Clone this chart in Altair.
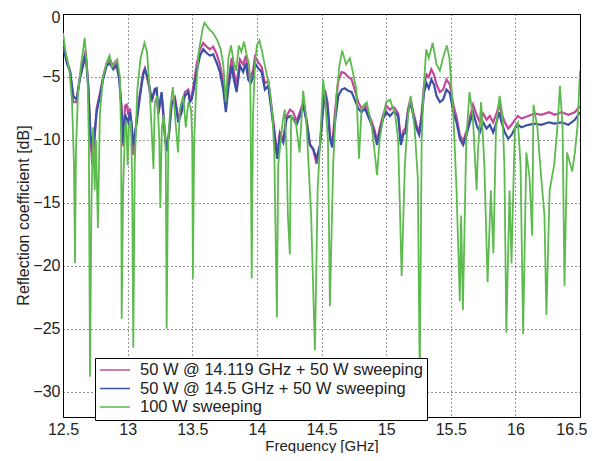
import altair as alt
import pandas as pd

# ---- data ----
series_names = [
    "50 W @ 14.119 GHz + 50 W sweeping",
    "50 W @ 14.5 GHz + 50 W sweeping",
    "100 W sweeping",
]
series_colors = ["#c4489c", "#3a4fa6", "#5dba4e"]

x_ticks = [12.5, 13, 13.5, 14, 14.5, 15, 15.5, 16, 16.5]
y_ticks = [0, -5, -10, -15, -20, -25, -30]

blue_freq = [
    12.50, 12.53, 12.555, 12.58, 12.605, 12.63, 12.655, 12.675, 12.695, 12.713,
    12.727, 12.742, 12.76, 12.786, 12.81, 12.838, 12.863, 12.889, 12.915, 12.935,
    12.954, 12.966, 12.98, 12.993, 13.005, 13.018, 13.03, 13.044, 13.07, 13.096,
    13.121, 13.134, 13.16, 13.186, 13.21, 13.225, 13.237, 13.263, 13.276, 13.289,
    13.302, 13.322, 13.34, 13.366, 13.392, 13.418, 13.443, 13.469, 13.482, 13.495,
    13.508, 13.534, 13.56, 13.585, 13.611, 13.637, 13.662, 13.69, 13.714, 13.74,
    13.76, 13.778, 13.805, 13.822, 13.843, 13.869, 13.894, 13.915, 13.933, 13.952,
    13.972, 13.985, 14.01, 14.037, 14.062, 14.088, 14.114, 14.14, 14.157, 14.178,
    14.204, 14.23, 14.256, 14.281, 14.307, 14.333, 14.358, 14.385, 14.41, 14.436,
    14.462, 14.488, 14.508, 14.526, 14.547, 14.565, 14.583, 14.604, 14.63, 14.656,
    14.68, 14.707, 14.733, 14.757, 14.784, 14.81, 14.836, 14.86, 14.887, 14.913,
    14.93, 14.95, 14.977, 15.003, 15.029, 15.055, 15.068, 15.093, 15.114, 15.132,
    15.15, 15.17, 15.19, 15.21, 15.235, 15.256, 15.274, 15.294, 15.313, 15.33,
    15.35, 15.37, 15.39, 15.416, 15.441, 15.467, 15.493, 15.52, 15.545, 15.57,
    15.596, 15.622, 15.648, 15.673, 15.70, 15.725, 15.75, 15.777, 15.802, 15.828,
    15.854, 15.874, 15.893, 15.918, 15.944, 15.97, 15.996, 16.02, 16.047, 16.10,
    16.15, 16.20, 16.26, 16.305, 16.357, 16.41, 16.46, 16.50,
]

blue_db = [
    -2.5, -3.9, -4.6, -6.5, -6.8, -5.2, -4.1, -3.2, -5.7, -9.6,
    -10.9, -9.8, -7.8, -6.5, -5.2, -4.1, -3.9, -4.4, -4.1, -5.2,
    -7.8, -10.2, -8.0, -8.3, -8.6, -7.8, -8.6, -10.4, -8.6, -6.5,
    -4.8, -4.4, -5.2, -6.8, -6.0, -5.9, -7.8, -6.2, -7.8, -9.6,
    -10.9, -9.4, -7.2, -6.8, -8.6, -7.8, -6.5, -6.2, -7.0, -6.8,
    -6.2, -4.6, -3.3, -2.8, -3.1, -3.3, -3.2, -3.9, -4.6, -6.0,
    -7.8, -6.0, -4.1, -5.2, -6.2, -4.1, -4.6, -3.9, -5.2, -5.5,
    -5.0, -3.9, -4.3, -4.6, -6.0, -5.7, -7.8, -9.9, -11.5, -9.6,
    -10.2, -8.3, -8.1, -8.3, -8.8, -8.1, -7.2, -8.6, -10.4, -10.7,
    -11.5, -10.4, -8.1, -6.2, -7.4, -9.9, -10.6, -8.6, -6.5, -6.0,
    -5.9, -6.1, -6.2, -6.8, -7.5, -7.8, -7.5, -8.1, -8.8, -9.6,
    -10.4, -9.4, -8.3, -7.8, -8.1, -7.8, -7.8, -8.1, -10.4, -9.6,
    -9.4, -7.8, -7.0, -8.1, -9.1, -9.6, -8.3, -6.2, -5.5, -5.9,
    -5.2, -5.6, -6.5, -7.0, -6.8, -6.0, -6.3, -7.8, -8.6, -9.9,
    -10.4, -9.6, -8.6, -7.8, -8.8, -9.4, -8.6, -9.1, -8.8, -9.4,
    -8.6, -7.8, -8.6, -9.4, -9.9, -9.6, -9.1, -8.8, -9.0, -8.8,
    -8.7, -8.8, -8.6, -8.7, -8.6, -8.8, -8.4, -7.8,
]

magenta_db = [
    -2.3, -3.7, -4.5, -7.0, -7.0, -5.0, -3.9, -2.9, -5.5, -10.0,
    -12.0, -10.3, -7.5, -6.3, -5.0, -3.9, -3.6, -4.2, -3.9, -5.0,
    -7.5, -10.5, -7.3, -7.2, -8.0, -7.5, -9.0, -11.2, -8.3, -6.2,
    -4.6, -4.3, -5.5, -7.0, -6.0, -6.2, -8.0, -6.4, -8.0, -9.8,
    -10.8, -9.2, -7.0, -6.6, -8.3, -7.5, -6.2, -6.0, -6.8, -6.5,
    -5.8, -4.0, -2.8, -2.3, -2.6, -2.8, -2.6, -3.2, -4.0, -5.4,
    -7.2, -5.4, -3.5, -4.6, -5.6, -3.6, -4.0, -3.3, -4.6, -5.0,
    -4.4, -3.4, -3.8, -4.2, -5.5, -5.3, -7.4, -9.6, -11.2, -9.4,
    -10.0, -8.1, -7.6, -7.8, -8.5, -7.8, -7.0, -8.4, -10.3, -10.8,
    -11.9, -10.5, -7.8, -6.0, -7.0, -9.5, -10.5, -7.8, -5.3, -4.6,
    -4.7, -5.0, -5.2, -6.0, -7.0, -7.5, -7.2, -7.8, -8.5, -9.3,
    -10.1, -9.1, -8.0, -7.3, -7.6, -7.4, -7.5, -7.9, -10.1, -9.3,
    -9.1, -7.5, -6.7, -7.8, -8.8, -9.4, -8.0, -5.6, -4.8, -5.0,
    -4.4, -4.8, -5.6, -6.2, -6.0, -5.2, -5.6, -7.2, -8.2, -9.6,
    -10.1, -9.3, -8.2, -7.2, -8.0, -8.6, -7.9, -8.4, -8.1, -8.6,
    -7.9, -7.2, -7.9, -8.6, -9.1, -8.8, -8.4, -8.1, -8.3, -8.1,
    -7.9, -8.0, -7.8, -8.0, -7.8, -8.0, -7.8, -7.3,
]

green_freq = [
    12.50, 12.52, 12.55, 12.57, 12.585, 12.593, 12.60, 12.615, 12.64, 12.668,
    12.69, 12.70, 12.709, 12.72, 12.733, 12.745, 12.755, 12.77, 12.785, 12.81,
    12.84, 12.86, 12.88, 12.90, 12.92, 12.94, 12.95, 12.954, 12.965, 12.98,
    12.99, 13.00, 13.01, 13.025, 13.035, 13.044, 13.055, 13.075, 13.10, 13.13,
    13.15, 13.17, 13.185, 13.20, 13.21, 13.23, 13.245, 13.253, 13.265, 13.28,
    13.295, 13.302, 13.315, 13.33, 13.35, 13.37, 13.39, 13.405, 13.43, 13.45,
    13.47, 13.49, 13.50, 13.505, 13.515, 13.53, 13.55, 13.58, 13.595, 13.63,
    13.66, 13.69, 13.72, 13.74, 13.76, 13.78, 13.80, 13.82, 13.84, 13.86,
    13.88, 13.90, 13.92, 13.94, 13.95, 13.96, 13.97, 13.985, 14.00, 14.02,
    14.04, 14.06, 14.08, 14.10, 14.12, 14.135, 14.155, 14.165, 14.18, 14.20,
    14.216, 14.23, 14.24, 14.255, 14.265, 14.285, 14.30, 14.33, 14.358, 14.38,
    14.40, 14.42, 14.449, 14.47, 14.49, 14.513, 14.53, 14.55, 14.565, 14.59,
    14.615, 14.64, 14.66, 14.69, 14.72, 14.74, 14.77, 14.79, 14.81, 14.85,
    14.89, 14.93, 14.95, 14.98, 15.00, 15.03, 15.07, 15.093, 15.12, 15.145,
    15.17, 15.19, 15.22, 15.245, 15.26, 15.275, 15.29, 15.31, 15.33, 15.36,
    15.39, 15.416, 15.44, 15.47, 15.49, 15.52, 15.545, 15.57, 15.58, 15.594,
    15.62, 15.645, 15.67, 15.70, 15.71, 15.735, 15.76, 15.785, 15.81, 15.83,
    15.85, 15.878, 15.90, 15.915, 15.93, 15.955, 15.97, 15.996, 16.02, 16.04,
    16.06, 16.085, 16.11, 16.13, 16.14, 16.17, 16.20, 16.225, 16.24, 16.265,
    16.30, 16.325, 16.345, 16.365, 16.38, 16.40, 16.44, 16.46, 16.48, 16.50,
]

green_db = [
    -1.5, -3.0, -4.5, -7.0, -12.0, -19.8, -11.0, -6.5, -4.0, -1.9,
    -5.0, -10.0, -28.8, -15.0, -9.0, -14.0, -10.0, -17.0, -8.0, -5.0,
    -3.8, -3.3, -4.2, -3.8, -3.6, -5.0, -10.0, -24.2, -14.0, -9.0,
    -8.5, -12.0, -9.0, -8.5, -13.0, -26.5, -12.0, -6.0, -3.5, -2.3,
    -3.0, -6.0, -9.0, -12.3, -7.0, -6.5, -10.0, -15.4, -9.0, -8.0,
    -11.0, -25.0, -10.0, -7.5, -5.8, -8.5, -11.0, -7.5, -6.5, -9.0,
    -7.0, -7.5, -10.0, -21.0, -10.0, -6.0, -3.0, -1.2, -0.7, -1.2,
    -1.5, -2.0, -2.8, -4.0, -7.0, -3.5, -2.5, -3.8, -4.5, -2.5,
    -3.0, -2.2, -3.2, -4.0, -6.0, -21.0, -8.0, -4.0, -2.5, -2.1,
    -3.0, -4.0, -5.0, -6.0, -8.0, -11.0, -24.1, -12.0, -10.5, -8.5,
    -7.6, -11.0, -16.0, -19.1, -8.0, -8.5, -8.5, -11.0, -6.1, -8.0,
    -12.0, -16.0, -26.7, -14.0, -10.0, -5.2, -7.0, -10.0, -23.2, -12.0,
    -6.5, -4.0, -2.9, -4.0, -3.5, -4.5, -6.0, -11.5, -7.5, -7.0,
    -9.0, -12.8, -10.0, -8.0, -7.0, -6.8, -8.0, -10.0, -20.8, -12.0,
    -8.0, -6.5, -9.0, -13.0, -29.0, -10.0, -6.0, -2.8, -3.5, -2.3,
    -4.0, -4.5, -3.5, -2.5, -3.5, -8.0, -14.0, -22.8, -16.0, -23.5,
    -10.0, -6.2, -8.0, -14.0, -11.0, -7.0, -12.0, -21.3, -14.0, -19.0,
    -9.0, -6.5, -8.0, -12.0, -25.3, -14.0, -19.8, -9.0, -8.6, -12.0,
    -25.4, -11.0, -13.0, -17.6, -7.2, -9.0, -13.0, -16.0, -23.9, -14.0,
    -12.0, -9.0, -5.7, -9.0, -21.6, -11.0, -12.5, -11.0, -9.0, -4.5,
]

# ---- tables ----
df_m = pd.DataFrame({"f": blue_freq, "db": magenta_db, "series": series_names[0]})
df_b = pd.DataFrame({"f": blue_freq, "db": blue_db, "series": series_names[1]})
df_g = pd.DataFrame({"f": green_freq, "db": green_db, "series": series_names[2]})

FONT = "Liberation Sans"

color = alt.Color(
    "series:N",
    scale=alt.Scale(domain=series_names, range=series_colors),
    legend=alt.Legend(
        title=None,
        orient="none",
        legendX=32,
        legendY=344,
        symbolType="stroke",
        symbolSize=900,
        symbolStrokeWidth=1.5,
        clipHeight=16,
        rowPadding=1.5,
        labelOffset=9,
        labelLimit=400,
        labelFontSize=16.5,
        labelFont=FONT,
        labelColor="#222",
        fillColor="white",
        strokeColor="black",
        padding=4,
    ),
)

x_enc = alt.X(
    "f:Q",
    scale=alt.Scale(domain=[12.5, 16.5], nice=False, zero=False),
    axis=alt.Axis(
        values=x_ticks,
        title="Frequency [GHz]",
        titleY=33,
        titleFontSize=15,
        titleBaseline="alphabetic",
        labelPadding=4,
        labelFlush=False,
        labelAlign=alt.condition(
            "datum.value == 16.5", alt.value("right"), alt.value("center")
        ),
        labelOffset=alt.condition(
            "datum.value == 16.5", alt.value(7), alt.value(0)
        ),
        format="~g",
    ),
)
y_enc = alt.Y(
    "db:Q",
    scale=alt.Scale(domain=[-32, 0], nice=False, zero=False),
    axis=alt.Axis(
        values=y_ticks,
        title="Reflection coefficient [dB]",
        titleX=-35,
        titleY=201,
        titleBaseline="alphabetic",
        titleAnchor="middle",
        labelPadding=3,
        labelOffset=alt.condition(
            "datum.value == 0", alt.value(3), alt.value(0)
        ),
    ),
)

def layer(df, width):
    return alt.Chart(df).mark_line(strokeWidth=width, clip=True).encode(
        x=x_enc, y=y_enc, color=color
    )

chart = alt.layer(
    layer(df_m, 2.2),
    layer(df_b, 2.2),
    layer(df_g, 1.8),
).properties(
    width=517,
    height=403,
    autosize=alt.AutoSizeParams(type="none"),
    padding={"left": 55, "top": 6, "right": 7, "bottom": 36},
).configure_view(
    stroke="black", strokeWidth=1
).configure_axis(
    grid=True,
    gridColor="black",
    gridDash=[1, 3],
    gridWidth=1,
    gridOpacity=0.85,
    domainColor="black",
    domainWidth=1,
    tickSize=0,
    labelFont=FONT,
    labelFontSize=16,
    labelColor="#222",
    titleFont=FONT,
    titleFontSize=16,
    titleFontWeight="normal",
    titleColor="#222",
)

chart.save("out.html", embed_options={"renderer": "svg", "actions": False})
